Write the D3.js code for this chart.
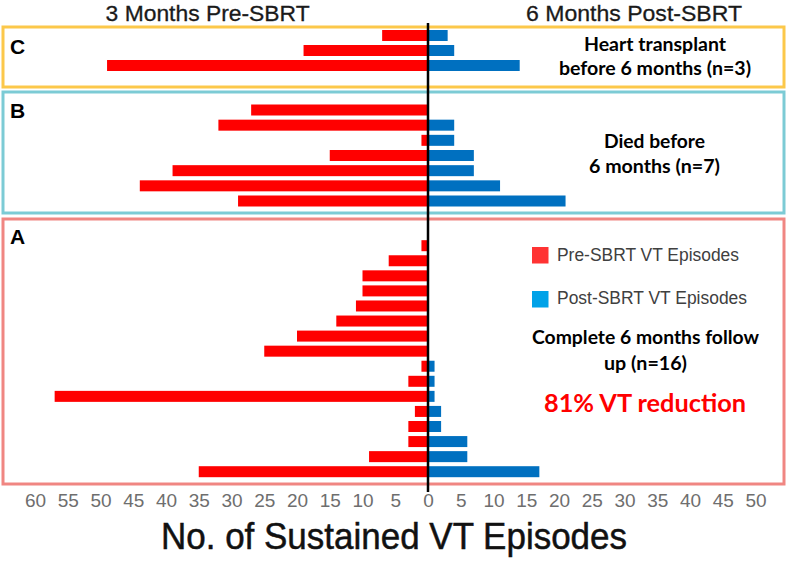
<!DOCTYPE html>
<html><head><meta charset="utf-8">
<script src="https://cdn.jsdelivr.net/npm/d3@7"></script>
<style>body{margin:0;background:#fff}svg{display:block}</style>
</head><body>
<svg id="c" width="789" height="561"></svg>
<script>
// ---- data ----
const panelC_pre  = [7, 19, 49];
const panelC_post = [3, 4, 14];
const panelB_pre  = [27, 32, 1, 15, 39, 44, 29];
const panelB_post = [0, 4, 4, 7, 7, 11, 21];
const panelA_pre  = [1, 6, 10, 10, 11, 14, 20, 25, 1, 3, 57, 2, 3, 3, 9, 35];
const panelA_post = [0, 0, 0, 0, 0, 0, 0, 0, 1, 1, 1, 2, 2, 6, 6, 17];
const tickValues  = [-60,-55,-50,-45,-40,-35,-30,-25,-20,-15,-10,-5,0,5,10,15,20,25,30,35,40,45,50];
const panelNames  = ["C", "B", "A"];
const panelNotes  = [["Heart transplant", "before 6 months (n=3)"], ["Died before", "6 months (n=7)"], ["Complete 6 months follow", "up (n=16)"]];
const legendLabels = ["Pre-SBRT VT Episodes", "Post-SBRT VT Episodes"];
const sideTitles  = ["3 Months Pre-SBRT", "6 Months Post-SBRT"];
const axisTitle   = "No. of Sustained VT Episodes";
const reductionLabel = "81% VT reduction";

// ---- layout ----
const svg = d3.select("#c");
const x = d3.scaleLinear().domain([-60, 50]).range([35, 755.5]);
const RED = "#ff0000", BLUE = "#0070c0";
const barH = 11;
const NARROW = "Liberation Sans Narrow, Liberation Sans, Arial, sans-serif";

const panels = [
  {pre: panelC_pre, post: panelC_post, box: [27, 87],  rows: [35.5, 65.5], color: "#fcc84a",
   label: {y: 54}, notes: [{y: 51, w: 142, cx: 655}, {y: 75, w: 192, cx: 655}]},
  {pre: panelB_pre, post: panelB_post, box: [92, 213], rows: [110, 201], color: "#7ccbd5",
   label: {y: 118}, notes: [{y: 148, w: 101, cx: 654.5}, {y: 173, w: 131, cx: 654.5}]},
  {pre: panelA_pre, post: panelA_post, box: [219, 484], rows: [245.7, 471.7], color: "#f08682",
   label: {y: 244}, notes: [{y: 344, w: 227, cx: 645.5}, {y: 370, w: 83, cx: 645.5}]}
];

panels.forEach((p, pi) => {
  const idx = d3.range(p.pre.length);
  const y = d3.scalePoint().domain(idx).range(p.rows);
  const g = svg.append("g");
  g.append("rect").attr("x", 3).attr("y", p.box[0]).attr("width", 781).attr("height", p.box[1] - p.box[0])
    .attr("fill", "none").attr("stroke", p.color).attr("stroke-width", 3);
  g.selectAll("rect.pre").data(idx).join("rect").attr("class", "pre")
    .attr("x", i => x(-p.pre[i])).attr("width", i => x(0) - x(-p.pre[i]))
    .attr("y", i => y(i) - barH / 2).attr("height", barH).attr("fill", RED);
  g.selectAll("rect.post").data(idx.filter(i => p.post[i] > 0)).join("rect").attr("class", "post")
    .attr("x", x(0)).attr("width", i => x(p.post[i]) - x(0))
    .attr("y", i => y(i) - barH / 2).attr("height", barH).attr("fill", BLUE);
  g.append("text").attr("x", 10).attr("y", p.label.y).text(panelNames[pi])
    .attr("font-family", "Liberation Sans, Arial, sans-serif").attr("font-weight", "bold").attr("font-size", 21).attr("fill", "#000");
  p.notes.forEach((n, k) => {
    g.append("text").attr("x", n.cx).attr("y", n.y).attr("text-anchor", "middle")
      .attr("font-family", "Lato, sans-serif").attr("font-weight", "bold").attr("font-size", 19).attr("fill", "#000")
      .attr("textLength", n.w).attr("lengthAdjust", "spacingAndGlyphs").text(panelNotes[pi][k]);
  });
});

// zero line
svg.append("line").attr("x1", x(0)).attr("x2", x(0)).attr("y1", 23).attr("y2", 492)
  .attr("stroke", "#000").attr("stroke-width", 2.5);

// axis
const axis = d3.axisBottom(x).tickValues(tickValues).tickSize(0).tickPadding(2).tickFormat(d => Math.abs(d));
const ag = svg.append("g").attr("transform", "translate(0,491)").call(axis);
ag.select(".domain").remove();
ag.selectAll("text").attr("font-family", NARROW).attr("font-size", 19).attr("fill", "#6e6e6e");

// side titles
[[207.6, 204], [634, 216]].forEach((t, i) => {
  svg.append("text").attr("x", t[0]).attr("y", 21).attr("text-anchor", "middle")
    .attr("font-family", NARROW).attr("font-size", 22).attr("fill", "#1a1a1a")
    .attr("stroke", "#1a1a1a").attr("stroke-width", 0.3)
    .attr("textLength", t[1]).attr("lengthAdjust", "spacingAndGlyphs").text(sideTitles[i]);
});

// axis title
svg.append("text").attr("x", 394).attr("y", 549).attr("text-anchor", "middle")
  .attr("font-family", NARROW).attr("font-size", 37).attr("fill", "#111")
  .attr("stroke", "#111").attr("stroke-width", 0.5)
  .attr("textLength", 466).attr("lengthAdjust", "spacingAndGlyphs").text(axisTitle);

// legend
const legColors = ["#ff3333", "#00a2e8"];
[[247, 261, 182], [291, 304, 190]].forEach((l, i) => {
  svg.append("rect").attr("x", 532).attr("y", l[0]).attr("width", 16.5).attr("height", 16.5).attr("fill", legColors[i]);
  svg.append("text").attr("x", 557).attr("y", l[1])
    .attr("font-family", NARROW).attr("font-size", 18).attr("fill", "#404040")
    .attr("textLength", l[2]).attr("lengthAdjust", "spacingAndGlyphs").text(legendLabels[i]);
});

// reduction label
svg.append("text").attr("x", 645).attr("y", 412).attr("text-anchor", "middle")
  .attr("font-family", "Lato, sans-serif").attr("font-weight", "bold").attr("font-size", 25).attr("fill", "#ff0000")
  .attr("textLength", 202).attr("lengthAdjust", "spacingAndGlyphs").text(reductionLabel);
</script>
</body></html>
